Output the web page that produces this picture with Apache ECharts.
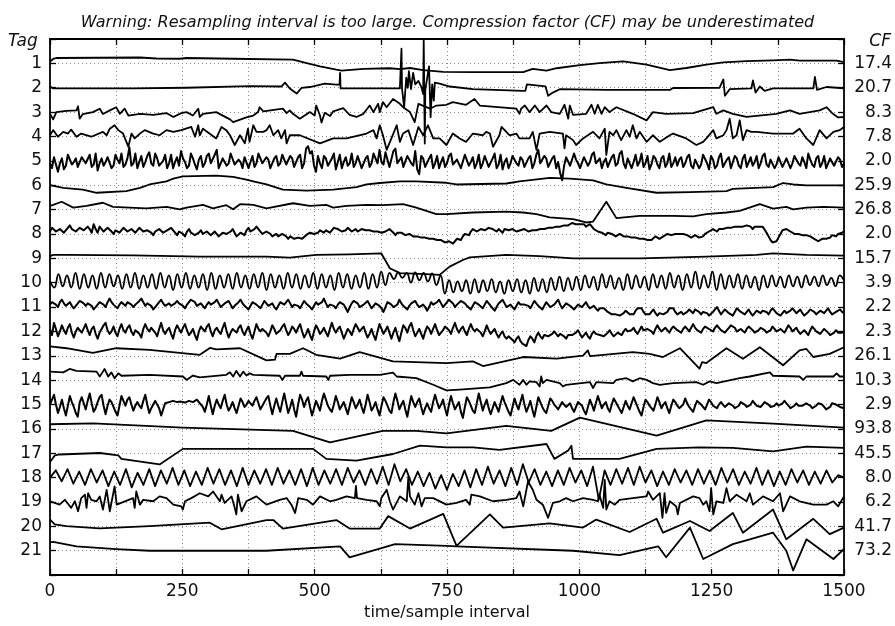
<!DOCTYPE html>
<html><head><meta charset="utf-8">
<script src="https://cdn.jsdelivr.net/npm/echarts@6/dist/echarts.min.js"></script>
<style>html,body{margin:0;padding:0;background:#fff}#c{width:895px;height:626px}</style>
</head><body><div id="c"></div>
<script>
const TITLE = 'Warning: Resampling interval is too large. Compression factor (CF) may be underestimated';
const X_NAME = 'time/sample interval';
const tagLabels = ['1','2','3','4','5','6','7','8','9','10','11','12','13','14','15','16','17','18','19','20','21'];
const cfLabels = ['17.4','20.7','8.3','7.8','2.0','25.9','26.8','2.0','15.7','3.9','2.2','2.3','26.1','10.3','2.9','93.8','45.5','8.0','6.2','41.7','73.2'];
const X_MAX = 1500;

// Piecewise traces: [time, offset below the tag line (tag units)]
const trace1 = [[0,-0.08],[3,-0.08],[6,-0.18],[12,-0.22],[170,-0.24],[201,-0.2],[245,-0.19],[258,-0.22],[346,-0.19],[459,-0.15],[485,-0.01],[510,0.12],[541,0.26],[551,0.3],[592,0.23],[642,0.2],[661,0.24],[680,0.19],[705,0.28],[743,0.35],[799,0.36],[894,0.36],[912,0.23],[938,0.3],[957,0.2],[1001,0.07],[1038,-0.01],[1083,-0.08],[1127,0.05],[1171,0.28],[1202,0.19],[1240,0.05],[1272,-0.04],[1316,-0.09],[1366,-0.12],[1398,-0.15],[1416,-0.11],[1486,-0.11],[1500,-0.05]];
const trace2 = [[0,-0.05],[3,-0.05],[6,0.03],[157,0.03],[258,0],[377,-0.07],[437,-0.05],[444,-0.21],[453,0.03],[466,0.24],[475,0.01],[491,-0.03],[519,-0.17],[541,-0.13],[547,-0.13],[548,-0.61],[549,0.03],[661,0.03],[664,0.03],[664,-1.6],[665,0.03],[669,0.8],[673,-0.41],[676,0],[678,-0.68],[682,0.06],[686,-0.61],[690,-0.14],[696,-0.28],[702,0],[705,0.26],[706,-1.97],[708,2.29],[709,0.1],[711,0.1],[716,-0.88],[719,1.21],[722,-0.14],[725,0.53],[727,-0.21],[736,-0.17],[755,-0.05],[799,0.06],[894,0.13],[898,0.13],[901,-0.14],[936,-0.06],[941,0.33],[950,0.2],[963,0.06],[1051,0.09],[1171,0.09],[1177,0.01],[1265,0],[1272,-0.34],[1275,0.33],[1284,0.06],[1325,0.03],[1328,-0.3],[1333,0.2],[1341,-0.05],[1350,0.13],[1366,0.03],[1442,0.03],[1445,-0.44],[1449,0.09],[1467,-0.03],[1486,0],[1500,0.03]];
const trace3 = [[0,0.07],[6,0.3],[12,0],[31,-0.05],[50,-0.07],[53,-0.24],[56,0.27],[62,0.08],[81,0],[94,-0.14],[100,0.08],[113,-0.07],[125,-0.2],[132,0.07],[141,-0.14],[148,0.14],[170,0.07],[195,0.11],[220,0.04],[233,0.2],[248,0.04],[258,0],[270,0.14],[280,-0.14],[283,0.2],[289,0.07],[314,0],[340,0.3],[346,0.41],[371,0.22],[384,0.14],[393,0],[396,-0.2],[403,-0.03],[440,-0.14],[447,0.04],[453,-0.07],[459,0.07],[472,0.27],[491,0],[500,0.14],[503,-0.27],[510,0.14],[513,0.43],[519,0.03],[529,0.16],[535,-0.03],[554,-0.16],[566,0.11],[579,0.2],[592,0.07],[604,-0.27],[611,0],[620,-0.34],[623,0],[629,-0.41],[636,-0.2],[648,-0.54],[661,-0.34],[667,-0.2],[680,0],[689,0.41],[696,-0.34],[718,-0.14],[730,-0.27],[749,-0.3],[761,-0.41],[786,-0.3],[802,-0.54],[812,-0.27],[881,-0.14],[887,0.07],[890,-0.14],[897,-0.27],[906,0],[916,-0.27],[925,0],[938,-0.27],[947,0],[963,0.07],[972,-0.3],[979,0.27],[982,-0.27],[988,0.11],[1013,0.07],[1023,-0.3],[1029,0.07],[1035,-0.3],[1042,0.07],[1048,-0.2],[1057,0],[1070,-0.2],[1101,0.07],[1127,0.34],[1139,0],[1164,0.07],[1215,0.04],[1253,-0.2],[1259,0.07],[1272,-0.07],[1290,0.07],[1316,0.2],[1372,0.07],[1398,-0.07],[1416,0.07],[1454,-0.07],[1467,-0.2],[1479,0.07],[1489,0.22],[1500,0.2]];
const trace4 = [[0,-0.05],[6,-0.26],[15,0.01],[25,-0.19],[34,-0.12],[40,-0.28],[50,0.01],[59,-0.12],[78,0.01],[100,-0.19],[107,-0.05],[113,-0.32],[122,-0.46],[129,-0.26],[138,-0.12],[148,0.42],[154,-0.12],[160,0.08],[170,-0.12],[179,-0.26],[195,-0.12],[207,-0.05],[220,-0.26],[233,-0.19],[248,-0.26],[267,-0.39],[274,0.01],[280,-0.46],[283,-0.05],[289,-0.32],[314,0.08],[324,-0.39],[333,-0.26],[340,-0.05],[349,0.35],[359,-0.05],[368,0.28],[374,-0.32],[377,0.22],[384,-0.46],[390,-0.19],[403,-0.19],[409,-0.26],[415,-0.46],[422,-0.05],[431,-0.26],[437,0.08],[444,-0.26],[447,0.28],[453,-0.05],[472,-0.05],[510,0.28],[535,0.08],[560,0.08],[598,-0.12],[611,-0.26],[617,0.08],[623,-0.46],[629,-0.05],[636,0.55],[645,0.08],[655,-0.46],[661,0.22],[667,-0.12],[677,-0.26],[686,0.35],[696,-0.39],[705,-0.05],[714,-0.46],[724,0.08],[736,0.08],[749,0.35],[761,-0.12],[774,0.08],[786,0.22],[799,-0.12],[818,-0.05],[824,-0.19],[831,-0.12],[837,0.42],[849,-0.05],[853,-0.39],[859,-0.26],[868,-0.05],[881,-0.12],[887,0.08],[906,0.08],[912,-0.19],[919,0.55],[925,-0.12],[944,-0.19],[969,-0.12],[972,0.49],[975,-0.05],[988,0.15],[994,0.35],[1007,0.08],[1026,-0.19],[1038,0.08],[1048,-0.32],[1051,0.76],[1057,-0.19],[1064,-0.05],[1070,-0.26],[1079,0.15],[1089,-0.26],[1095,0.01],[1101,-0.46],[1108,0.08],[1114,-0.19],[1127,0.22],[1139,-0.05],[1152,0.22],[1171,-0.05],[1177,-0.12],[1202,0.08],[1221,0.35],[1234,0.22],[1240,0.08],[1253,-0.26],[1259,0.08],[1272,-0.05],[1278,-0.26],[1284,-0.73],[1290,0.08],[1297,-0.05],[1303,-0.66],[1309,0.15],[1316,-0.26],[1325,-0.19],[1335,-0.19],[1366,-0.12],[1404,-0.12],[1416,-0.32],[1429,0.08],[1442,0.35],[1454,-0.26],[1467,0.08],[1480,-0.19],[1492,-0.26],[1500,-0.39]];
const trace6 = [[0,0],[25,0.11],[62,0.18],[88,0.31],[144,0.24],[170,0.11],[188,-0.03],[220,-0.16],[233,-0.27],[251,-0.36],[314,-0.39],[346,-0.34],[371,-0.23],[384,-0.16],[409,-0.03],[440,0.18],[485,0.22],[535,0.18],[579,0.08],[598,-0.03],[623,-0.09],[661,-0.16],[692,-0.16],[749,-0.1],[768,-0.03],[862,-0.07],[887,-0.16],[944,-0.3],[982,-0.27],[1026,-0.2],[1051,-0.03],[1089,0.11],[1146,0.31],[1209,0.28],[1278,0.24],[1290,0.15],[1366,0.08],[1385,-0.09],[1404,-0.03],[1429,0.01],[1500,0.01]];
const trace7 = [[0,-0.15],[6,-0.19],[22,-0.32],[44,-0.08],[69,-0.15],[100,-0.28],[119,-0.11],[182,-0.05],[220,-0.11],[245,-0.01],[258,-0.08],[289,-0.19],[308,-0.05],[333,-0.18],[346,-0.01],[359,-0.22],[384,-0.19],[409,-0.05],[459,-0.26],[491,-0.15],[522,-0.19],[535,-0.08],[560,-0.15],[598,-0.19],[629,-0.18],[667,-0.22],[692,-0.08],[730,0.19],[749,0.19],[799,0.12],[862,0.08],[894,0.12],[919,0.19],[944,0.32],[988,0.39],[1013,0.53],[1026,0.49],[1051,-0.32],[1070,0.35],[1114,0.26],[1177,0.26],[1215,0.28],[1240,0.19],[1278,0.12],[1303,0.05],[1341,-0.22],[1366,-0.04],[1391,-0.11],[1404,-0.01],[1429,-0.08],[1461,-0.11],[1500,-0.08]];
const trace9 = [[0,-0.09],[6,-0.14],[31,-0.14],[157,-0.12],[283,-0.07],[409,-0.07],[453,-0.03],[503,-0.14],[566,-0.16],[626,-0.2],[642,0.41],[661,0.61],[711,0.65],[736,0.68],[755,0.34],[780,0.07],[793,-0.04],[862,-0.14],[925,-0.09],[988,0],[1114,0],[1240,-0.07],[1335,-0.14],[1366,-0.2],[1429,-0.14],[1500,-0.11]];
const trace13 = [[0,-0.39],[31,-0.31],[81,-0.12],[125,-0.31],[188,-0.24],[283,-0.04],[302,-0.32],[314,-0.26],[359,-0.31],[409,0.19],[425,0.16],[428,-0.08],[453,-0.08],[478,-0.31],[503,-0.04],[548,0.12],[585,-0.15],[648,0.23],[749,0.3],[799,0.23],[818,0.42],[894,0.05],[957,0.12],[1007,-0.01],[1016,-0.22],[1020,0.01],[1101,-0.15],[1133,-0.08],[1158,0.05],[1190,-0.31],[1227,0.53],[1232,0.26],[1240,0.3],[1278,-0.31],[1309,0.12],[1341,-0.35],[1385,0.39],[1416,-0.22],[1429,-0.28],[1442,0.05],[1473,-0.08],[1500,-0.35]];
const trace14 = [[0,-0.35],[25,-0.32],[37,-0.46],[50,-0.38],[88,-0.35],[94,-0.15],[100,-0.35],[103,-0.46],[110,-0.15],[116,-0.32],[122,-0.08],[129,-0.28],[135,-0.18],[188,-0.22],[251,-0.15],[258,-0.01],[270,-0.19],[283,-0.11],[333,-0.22],[340,-0.32],[346,-0.15],[352,-0.38],[359,-0.15],[365,-0.35],[371,-0.19],[377,-0.28],[384,-0.22],[434,-0.18],[439,-0.01],[444,-0.18],[472,-0.18],[475,-0.35],[478,-0.18],[522,-0.15],[526,-0.01],[529,-0.18],[566,-0.22],[623,-0.22],[648,-0.31],[655,-0.15],[692,-0.08],[724,0.19],[749,0.42],[774,0.39],[831,0.3],[862,0.12],[875,-0.01],[887,0.19],[894,-0.01],[900,0.19],[906,0.05],[919,0.08],[925,0.26],[928,-0.15],[931,0.12],[938,-0.01],[963,0.12],[969,0.26],[975,0.19],[1020,0.08],[1026,0.32],[1032,0.08],[1064,0.12],[1070,-0.01],[1089,-0.08],[1101,0.05],[1114,-0.08],[1127,-0.01],[1139,0.12],[1152,0.19],[1177,0.12],[1221,0.08],[1234,0.19],[1246,0.05],[1259,0.12],[1303,-0.08],[1322,-0.15],[1360,-0.32],[1366,-0.18],[1416,-0.15],[1423,-0.01],[1429,-0.15],[1480,-0.15],[1486,-0.28],[1492,-0.15],[1500,-0.15]];
const trace16 = [[0,-0.19],[81,-0.23],[251,-0.05],[459,0.08],[529,0.55],[629,0.08],[692,0.08],[749,0.18],[862,-0.12],[947,0.08],[1001,-0.46],[1146,0.28],[1240,-0.35],[1366,-0.22],[1500,-0.05]];
const trace17 = [[0,0.36],[9,0.09],[18,0.05],[94,-0.01],[129,0.09],[135,0.23],[207,0.46],[251,-0.18],[497,-0.18],[522,0.23],[579,0.3],[648,0.03],[699,-0.31],[749,-0.24],[799,-0.24],[849,-0.14],[938,-0.38],[953,0.23],[979,-0.11],[985,-0.31],[988,0.23],[1076,0.23],[1146,-0.18],[1227,-0.24],[1290,-0.22],[1366,-0.08],[1429,-0.27],[1500,-0.22]];
const trace19 = [[0,-0.03],[18,0.11],[28,-0.09],[40,0.24],[47,-0.03],[53,0.38],[59,-0.16],[66,-0.3],[69,0.24],[72,-0.36],[78,-0.09],[88,-0.03],[94,-0.23],[100,0.31],[107,-0.5],[113,0.38],[122,-0.64],[126,0.11],[157,-0.16],[160,0.24],[163,-0.43],[170,0.11],[176,-0.09],[195,-0.03],[207,-0.23],[220,-0.16],[233,0.11],[248,0.18],[251,0.31],[255,-0.03],[267,-0.16],[283,-0.36],[299,-0.23],[308,-0.43],[321,-0.03],[324,-0.3],[330,0.04],[343,-0.23],[349,0.24],[352,0.51],[355,-0.3],[362,0.38],[371,-0.03],[390,-0.23],[409,0.11],[434,-0.09],[447,-0.16],[456,0.11],[463,0.45],[469,-0.16],[485,-0.09],[497,0.11],[510,-0.23],[529,-0.03],[541,-0.09],[560,-0.23],[576,-0.16],[578,-0.66],[580,-0.16],[598,-0.09],[617,-0.03],[623,0.18],[626,-0.16],[636,-0.5],[642,-0.03],[648,0.31],[661,-0.23],[674,-0.03],[677,-1.04],[680,-0.23],[689,0.11],[696,-0.36],[702,0.18],[708,-0.16],[724,-0.16],[749,0.11],[768,0.04],[786,-0.09],[793,0.11],[796,-0.3],[812,-0.23],[837,-0.03],[862,-0.09],[881,-0.16],[887,-0.43],[894,0.18],[903,-0.84],[912,-0.5],[919,-0.09],[931,0.11],[941,0.65],[950,0.04],[963,-0.03],[975,-0.16],[988,-0.03],[1007,-0.16],[1026,-0.09],[1035,-0.03],[1038,-0.3],[1045,0.24],[1048,-0.91],[1051,0.31],[1057,-0.03],[1067,0.11],[1076,-0.09],[1101,-0.16],[1127,-0.23],[1130,-0.43],[1139,-0.09],[1152,-0.36],[1157,0.65],[1161,-0.36],[1164,0.45],[1171,-0.03],[1183,0.18],[1186,0.51],[1190,0.04],[1215,-0.23],[1227,-0.16],[1234,0.11],[1240,-0.03],[1246,0.38],[1249,-0.57],[1253,0.51],[1259,-0.03],[1272,0.04],[1278,-0.57],[1284,-0.03],[1297,-0.3],[1316,-0.03],[1322,-0.36],[1328,0.11],[1347,-0.23],[1366,-0.03],[1379,-0.36],[1385,0.38],[1398,-0.23],[1416,-0.03],[1442,0.11],[1467,0.11],[1480,-0.03],[1489,0.18],[1500,-0.23]];
const trace20 = [[0,-0.28],[9,-0.08],[31,-0.01],[94,0.08],[188,-0.01],[302,-0.15],[324,0.12],[409,-0.26],[422,-0.26],[440,0.09],[541,-0.26],[566,0.09],[623,0.09],[639,-0.42],[680,0.09],[743,-0.51],[768,0.8],[831,-0.49],[856,0.05],[944,-0.12],[1007,0.05],[1032,-0.28],[1095,0.23],[1146,-0.31],[1158,0.26],[1209,-0.22],[1246,0.19],[1290,-0.55],[1309,0.26],[1366,-0.69],[1391,0.53],[1442,-0.31],[1473,0.32],[1500,0.05]];
const trace21 = [[0,-0.34],[6,-0.36],[50,-0.18],[125,-0.07],[188,0],[251,0],[409,0],[548,-0.18],[566,0.27],[652,-0.27],[749,-0.2],[768,-0.18],[988,0],[1076,0.18],[1149,-0.18],[1164,0.27],[1209,-0.95],[1234,0.34],[1290,-0.27],[1322,-0.47],[1366,-0.74],[1391,0],[1404,0.81],[1429,-0.47],[1480,0.34],[1500,-0.07]];

// Evenly sampled traces over 0..1500: offsets below the tag line.
// "…Mid" arrays hold the readings that fall between consecutive main readings.
const trace5 = [0.1,-0.15,0.45,-0.1,0.2,-0.2,0.05,0.25,-0.15,0.1,-0.25,0.15,0.4,-0.1,0.05,-0.2,0.2,-0.05,-0.3,0.15,
-0.55,0.1,0.3,-0.2,0.05,-0.35,0.2,-0.1,0.15,-0.25,0.1,0.3,-0.15,-0.4,0.05,0.2,-0.1,0.35,-0.2,0.1,
-0.3,0.15,-0.45,0.25,-0.1,0.1,-0.25,0.2,0.05,-0.15,0.3,-0.2,0.1,-0.35,0.15,-0.05,0.25,-0.2,0.1,-0.3,
0.2,-0.1,0.3,-0.25,0.1,-0.6,-0.4,0.45,0.1,-0.2,0.2,-0.1,0.35,-0.25,0.05,0.2,-0.3,0.1,-0.15,0.25,
-0.2,0.1,-0.35,-0.45,0.15,-0.3,0.2,-0.5,0.05,0.25,-0.2,0.1,-0.4,0.55,-0.1,0.2,-0.25,0.1,0.3,-0.15,
0.1,-0.3,0.2,-0.1,0.25,-0.2,0.05,0.3,-0.25,0.1,-0.15,0.2,-0.3,0.15,0.35,-0.1,0.1,-0.25,0.2,-0.05,
0.25,-0.2,0.1,-0.45,0.15,-0.1,0.3,-0.2,0.05,0.8,-0.15,0.2,-0.3,0.1,0.25,-0.2,0.05,-0.35,0.15,0.3,
-0.1,0.2,-0.25,0.1,-0.4,0.3,-0.15,0.05,0.2,-0.3,0.1,0.35,-0.2,0.15,-0.1,0.25,-0.3,0.1,0.2,-0.15,
0.1,-0.25,0.3,-0.1,0.15,-0.2,0.35,-0.05,0.2,-0.3,0.1,-0.15,0.25,-0.1,0.3,-0.25,0.05,0.2,-0.2,0.1,
-0.3,0.25,-0.1,0.15,-0.2,0.3,-0.15,0.1,-0.25,0.2,0.05,-0.3,0.15,-0.1,0.25,-0.2,0.1,-0.15,0.2,-0.05,0.1];
const trace5Mid = [0.3,-0.2,0.1,0.35,-0.25,0.15,-0.1,0.3,-0.2,0.05,0.25,-0.3,0.1,0.2,-0.15,0.3,-0.25,0.1,0.25,-0.1,
0.2,-0.3,0.05,0.25,-0.2,0.1,-0.3,0.2,0.0,0.3,-0.25,0.05,0.2,-0.1,0.3,-0.3,0.15,-0.05,0.25,-0.2,
0.1,-0.25,0.3,-0.1,0.2,-0.3,0.15,-0.05,0.3,-0.2,0.05,0.25,-0.3,0.1,-0.15,0.3,-0.1,0.2,-0.25,0.15,
-0.2,0.25,-0.15,0.3,-0.5,-0.3,0.2,-0.2,0.3,-0.1,0.25,-0.3,0.05,0.3,-0.15,0.1,0.25,-0.2,0.3,-0.1,
0.25,-0.3,0.1,0.05,-0.35,0.25,-0.4,0.1,-0.15,0.3,-0.05,0.2,0.35,-0.2,0.25,-0.1,0.3,-0.2,0.05,0.25,
-0.2,0.15,-0.05,0.3,-0.25,0.2,-0.15,0.1,0.3,-0.2,0.25,-0.1,0.3,-0.25,0.05,0.3,-0.2,0.1,-0.15,0.25,
-0.1,0.3,-0.25,0.1,-0.2,0.25,-0.1,0.3,0.5,0.2,-0.2,0.25,-0.05,0.3,-0.15,0.2,-0.25,0.1,-0.1,0.05,
0.25,-0.15,0.2,-0.3,0.1,-0.1,0.3,-0.25,0.05,0.25,-0.2,0.15,-0.1,0.3,-0.2,0.1,0.25,-0.15,-0.05,0.25,
-0.15,0.2,-0.05,0.3,-0.25,0.1,-0.2,0.3,-0.15,0.25,-0.05,0.3,-0.2,0.2,-0.1,0.25,-0.15,0.05,0.3,-0.2,
0.15,-0.05,0.3,-0.15,0.25,-0.1,0.3,-0.2,0.1,-0.15,0.3,-0.05,0.25,-0.2,0.1,0.3,-0.1,0.2,-0.15,0.25];
const trace8 = [-0.1,-0.3,-0.05,-0.25,-0.1,-0.35,-0.15,-0.05,-0.3,-0.1,-0.2,-0.4,-0.05,-0.25,-0.15,-0.3,0.0,-0.2,-0.1,-0.3,
-0.05,-0.25,-0.1,-0.3,-0.05,-0.2,0.05,-0.15,-0.25,0.0,-0.1,-0.3,0.05,-0.15,0.1,-0.2,-0.05,0.1,-0.15,0.05,
-0.1,0.1,-0.05,0.15,-0.1,0.05,-0.2,0.1,-0.05,0.05,-0.25,-0.05,-0.3,-0.1,0.05,-0.15,0.1,0.0,0.15,-0.05,
0.2,0.05,0.25,0.1,0.2,0.0,-0.1,0.05,-0.15,-0.05,-0.2,-0.1,-0.3,-0.15,-0.05,-0.25,-0.1,-0.2,-0.05,-0.25,
-0.1,-0.2,-0.05,-0.15,0.0,-0.1,-0.25,0.05,-0.1,0.0,0.1,-0.05,0.15,0.05,0.2,0.1,0.25,0.15,0.3,0.2,
0.4,0.35,0.3,0.2,0.1,0.0,-0.1,-0.2,-0.05,-0.25,-0.1,-0.3,-0.15,-0.2,-0.05,-0.25,-0.1,-0.2,-0.05,-0.15,
-0.15,-0.05,-0.2,-0.1,-0.25,-0.15,-0.3,-0.2,-0.35,-0.25,-0.4,-0.3,-0.5,-0.35,-0.45,-0.3,-0.4,-0.2,-0.1,-0.05,
0.05,-0.1,0.05,0.1,0.0,0.15,0.05,0.2,0.1,0.25,0.15,0.3,0.2,0.1,0.2,0.05,-0.05,0.1,-0.05,0.05,
0.0,0.1,0.15,0.05,0.2,0.0,-0.1,-0.2,-0.1,-0.25,-0.15,-0.3,-0.2,-0.35,-0.25,-0.3,-0.4,-0.2,-0.35,-0.25,
-0.3,0.1,0.35,0.3,0.0,-0.2,-0.15,-0.05,0.05,-0.05,0.1,0.0,0.15,0.25,0.3,0.15,0.25,0.05,0.1,-0.05,-0.1];
const trace8Mid = [-0.25,-0.1,-0.2,-0.05,-0.25,-0.2,-0.1,-0.25,-0.15,-0.3,-0.05,-0.2,-0.3,-0.1,-0.25,-0.1,-0.15,-0.05,-0.25,-0.1,
-0.2,-0.05,-0.25,-0.1,-0.15,-0.05,-0.1,-0.2,-0.05,-0.15,-0.25,-0.05,-0.1,0.0,-0.1,-0.05,0.05,-0.05,0.0,-0.1,
0.05,-0.1,0.1,-0.05,0.0,-0.1,-0.05,0.05,0.0,-0.15,-0.1,-0.2,-0.2,0.0,-0.1,0.0,0.05,0.1,0.0,0.1,
0.1,0.2,0.15,0.2,0.05,-0.05,0.0,-0.05,-0.1,-0.15,-0.05,-0.25,-0.2,-0.1,-0.15,-0.2,-0.15,-0.1,-0.2,-0.15,
-0.15,-0.1,-0.1,-0.05,-0.1,-0.2,-0.05,-0.05,-0.05,0.05,0.0,0.1,0.1,0.15,0.15,0.2,0.2,0.25,0.25,0.35,
0.3,0.4,0.2,0.25,0.0,0.05,-0.2,-0.1,-0.2,-0.15,-0.25,-0.2,-0.1,-0.15,-0.2,-0.15,-0.2,-0.1,-0.15,-0.2,
-0.1,-0.15,-0.15,-0.2,-0.2,-0.25,-0.25,-0.3,-0.3,-0.35,-0.35,-0.45,-0.4,-0.4,-0.4,-0.35,-0.3,-0.15,-0.05,0.0,
-0.05,0.0,0.1,0.0,0.1,0.1,0.15,0.15,0.2,0.2,0.25,0.25,0.1,0.2,0.1,0.0,0.05,0.0,0.0,0.0,
0.05,0.15,0.05,0.15,0.1,-0.05,-0.15,-0.15,-0.2,-0.2,-0.25,-0.25,-0.3,-0.3,-0.3,-0.35,-0.3,-0.3,-0.3,-0.3,
-0.05,0.25,0.4,0.15,-0.15,-0.2,-0.1,0.0,0.0,0.05,0.05,0.1,0.2,0.3,0.2,0.2,0.15,0.1,0.0,-0.05];
const trace10 = [-0.05,0.2,-0.35,0.15,-0.3,0.2,-0.4,0.25,-0.35,0.2,-0.3,0.25,-0.4,0.2,-0.35,0.15,-0.3,0.25,-0.35,0.2,
-0.4,0.25,-0.3,0.2,-0.35,0.25,-0.4,0.2,-0.3,0.3,-0.35,0.2,-0.4,0.25,-0.3,0.2,-0.35,0.3,-0.4,0.25,
-0.3,0.2,-0.35,0.25,-0.4,0.2,-0.3,0.25,-0.35,0.2,-0.4,0.3,-0.35,0.2,-0.3,0.25,-0.4,0.2,-0.35,0.25,
-0.3,0.2,-0.4,0.25,-0.35,0.2,-0.3,0.3,-0.4,0.2,-0.35,0.25,-0.3,0.2,-0.4,0.25,-0.35,0.2,-0.45,0.1,
-0.4,-0.15,-0.42,-0.2,-0.4,0.0,-0.42,-0.1,-0.4,-0.05,-0.38,0.1,-0.3,0.45,
-0.1,0.4,-0.05,0.35,-0.1,0.45,-0.15,0.4,-0.1,0.35,-0.15,0.4,-0.05,0.45,-0.1,0.35,-0.15,0.4,-0.1,0.45,-0.2,0.35,-0.15,0.4,-0.2,0.3,-0.25,0.35,-0.2,0.3,-0.25,
0.3,-0.3,0.2,-0.25,0.3,-0.35,0.2,-0.3,0.25,-0.2,0.3,-0.35,0.25,-0.3,0.2,-0.25,0.3,-0.35,0.2,-0.3,0.25,-0.4,0.2,-0.3,0.3,-0.35,0.2,-0.45,0.25,-0.3,0.2,-0.45,0.3,-0.35,0.25,-0.3,0.2,-0.35,0.25,-0.3,0.2,-0.25,0.3,-0.3,
0.2,-0.3,0.15,-0.25,0.2,-0.3,0.15,-0.25,0.2,-0.3,0.1,-0.25,0.15,-0.3,0.1,-0.2,0.15,-0.3,-0.1];
const trace11 = [-0.1,-0.25,0.0,-0.3,-0.05,-0.2,0.05,-0.15,-0.3,-0.05,-0.2,0.1,-0.1,-0.25,0.0,-0.35,-0.1,0.05,-0.2,-0.05,
-0.25,0.0,-0.15,-0.35,-0.05,-0.2,0.1,-0.1,-0.3,-0.05,-0.15,0.0,-0.25,-0.1,0.05,-0.2,-0.35,-0.05,-0.15,0.05,
-0.2,-0.05,-0.3,0.0,-0.15,-0.25,0.05,-0.1,-0.3,-0.05,0.1,-0.2,-0.1,0.05,-0.25,-0.05,-0.15,0.1,-0.2,-0.1,
-0.3,0.0,-0.15,0.05,-0.25,-0.1,0.1,-0.2,-0.05,-0.35,0.0,-0.15,0.05,-0.2,-0.1,0.2,-0.15,-0.3,0.0,-0.1,
-0.25,0.05,-0.15,-0.05,0.2,-0.2,-0.1,0.05,-0.3,-0.05,0.1,-0.15,-0.25,0.0,-0.1,0.15,-0.2,-0.05,-0.3,0.0,
-0.2,-0.35,0.0,-0.15,-0.3,-0.05,0.1,-0.2,-0.1,0.05,-0.25,-0.05,0.15,-0.15,-0.3,0.0,-0.1,0.1,-0.2,-0.05,
-0.15,0.05,-0.25,-0.05,0.1,-0.2,0.0,-0.1,-0.3,0.05,-0.15,-0.05,0.1,-0.1,0.0,-0.2,0.05,-0.05,0.15,0.0,
0.1,0.25,0.35,0.25,0.4,0.15,0.3,0.3,0.05,0.05,0.3,0.3,0.1,0.35,0.2,0.35,0.05,0.05,0.3,0.2,
0.35,0.1,0.25,0.05,0.3,0.15,0.35,0.2,0.0,0.3,0.1,0.25,0.35,0.05,0.2,0.3,0.1,0.35,0.15,0.25,
0.1,0.3,0.05,0.25,0.35,0.15,0.3,0.05,0.25,0.1,0.35,0.2,0.05,0.3,0.15,0.25,0.05,0.3,0.2,0.1,0.25];
const trace11Mid = [-0.2,-0.1,-0.2,-0.15,-0.1,-0.05,-0.05,-0.25,-0.15,-0.15,-0.05,0.0,-0.2,-0.1,-0.2,-0.2,-0.05,-0.1,-0.15,-0.2,
-0.1,-0.1,-0.25,-0.2,-0.15,-0.05,0.0,-0.2,-0.15,-0.1,-0.05,-0.15,-0.15,-0.05,-0.1,-0.3,-0.2,-0.1,-0.05,-0.1,
-0.1,-0.2,-0.15,-0.05,-0.2,-0.1,-0.05,-0.2,-0.15,0.0,-0.05,-0.15,-0.05,-0.1,-0.15,-0.1,0.0,-0.05,-0.15,-0.2,
-0.15,-0.1,-0.05,-0.1,-0.15,0.0,-0.05,-0.1,-0.2,-0.15,-0.1,-0.05,-0.1,-0.15,0.05,0.0,-0.25,-0.15,-0.05,-0.15,
-0.1,-0.05,-0.1,0.05,0.0,-0.15,0.0,-0.1,-0.15,0.0,-0.05,-0.2,-0.1,-0.05,0.0,0.0,-0.1,-0.2,-0.15,-0.1,
-0.3,-0.15,-0.1,-0.25,-0.15,0.0,-0.05,-0.15,-0.05,-0.1,-0.15,0.05,0.0,-0.2,-0.15,-0.05,0.0,-0.05,-0.1,-0.1,
-0.05,-0.1,-0.15,0.0,-0.05,-0.1,-0.05,-0.2,-0.1,-0.05,-0.1,0.0,0.0,-0.05,-0.1,-0.05,0.0,0.05,0.05,0.05,
0.2,0.3,0.3,0.35,0.25,0.2,0.3,0.15,0.05,0.2,0.3,0.2,0.25,0.25,0.3,0.2,0.05,0.2,0.25,0.3,
0.2,0.15,0.1,0.2,0.2,0.25,0.3,0.1,0.15,0.2,0.15,0.3,0.2,0.1,0.25,0.2,0.25,0.25,0.2,0.15,
0.2,0.15,0.15,0.3,0.25,0.25,0.15,0.15,0.2,0.25,0.3,0.1,0.2,0.25,0.2,0.15,0.2,0.25,0.15,0.2];
const trace12 = [-0.1,-0.35,0.2,-0.25,0.1,-0.3,0.25,-0.15,0.05,-0.3,0.15,-0.2,0.3,-0.1,-0.35,0.1,-0.2,0.2,-0.3,0.05,
-0.25,0.15,-0.1,0.25,-0.3,0.0,-0.2,0.2,-0.35,0.1,-0.15,0.3,-0.25,0.05,-0.3,0.15,-0.1,0.35,-0.2,0.0,
-0.3,0.2,-0.15,0.1,-0.35,0.25,-0.1,0.05,-0.25,0.15,-0.2,0.3,-0.3,0.0,-0.15,0.2,-0.25,0.1,-0.05,-0.3,
0.15,-0.2,0.05,-0.3,0.25,-0.1,0.35,-0.25,0.1,-0.15,0.2,-0.35,0.05,-0.2,0.3,-0.1,0.15,-0.3,0.0,-0.2,
0.25,-0.1,0.35,-0.3,0.1,-0.2,0.3,-0.15,0.4,-0.25,0.05,-0.35,0.2,-0.1,0.3,-0.2,0.1,-0.3,0.15,-0.05,
-0.25,0.1,-0.35,0.05,-0.2,0.15,-0.3,0.0,-0.15,0.2,-0.25,0.1,-0.1,0.25,0.0,0.3,0.15,0.45,0.2,0.5,
0.6,0.2,0.45,0.05,0.3,0.1,0.25,0.0,0.2,0.05,0.3,0.1,0.2,-0.05,0.25,0.05,0.3,0.0,0.15,0.1,
0.25,-0.05,0.2,0.05,0.15,-0.1,0.05,-0.15,0.1,-0.2,0.0,-0.1,0.1,-0.25,0.0,-0.15,0.05,-0.2,-0.05,0.05,
-0.2,0.0,-0.3,-0.05,0.05,-0.2,-0.1,0.0,-0.25,-0.05,0.05,-0.15,-0.3,0.0,-0.1,0.05,-0.2,-0.05,0.1,-0.15,
-0.05,0.1,-0.2,0.0,-0.1,0.05,-0.25,0.0,-0.15,0.1,-0.05,0.15,-0.2,0.0,0.1,-0.1,0.05,0.2,-0.05,0.1,0.0];
const trace12Mid = [0.15,-0.1,0.0,-0.05,-0.15,0.05,0.0,-0.2,0.1,-0.05,-0.1,0.1,0.05,-0.25,-0.05,0.0,0.05,-0.1,-0.05,-0.15,
0.0,-0.05,0.1,-0.1,-0.1,-0.15,0.05,-0.1,-0.05,-0.05,0.1,-0.05,-0.1,-0.15,-0.05,0.05,0.15,0.0,-0.15,-0.2,
0.0,-0.05,0.0,-0.15,0.0,0.05,-0.05,-0.15,0.0,-0.05,0.1,0.0,-0.1,-0.1,0.05,0.0,-0.1,0.05,-0.2,-0.05,
0.0,-0.1,-0.15,0.0,0.1,0.15,0.0,-0.1,0.0,0.05,-0.1,-0.1,-0.1,0.05,0.1,0.0,-0.1,-0.15,-0.1,0.05,
0.1,0.15,0.0,-0.1,-0.05,0.05,0.05,0.15,0.05,-0.15,-0.2,-0.05,0.05,0.1,0.0,-0.1,-0.1,-0.05,0.05,-0.2,
-0.05,-0.15,-0.1,-0.1,0.0,-0.1,-0.1,-0.1,0.05,0.0,-0.05,0.0,0.1,0.1,0.2,0.2,0.35,0.3,0.4,0.55,
0.35,0.3,0.2,0.2,0.15,0.2,0.1,0.1,0.1,0.2,0.15,0.15,0.05,0.1,0.15,0.2,0.1,0.1,0.15,0.2,
0.05,0.1,0.15,0.1,0.0,0.0,-0.05,0.0,-0.05,-0.05,-0.1,0.0,-0.1,-0.1,-0.05,-0.05,-0.1,-0.15,0.0,-0.1,
-0.1,-0.15,-0.15,0.0,-0.1,-0.15,-0.05,-0.15,-0.15,0.0,-0.05,-0.25,-0.15,-0.05,-0.05,-0.1,-0.15,0.05,-0.05,-0.1,
0.05,-0.05,-0.1,-0.05,-0.05,-0.1,-0.15,-0.05,0.0,0.05,0.05,-0.05,-0.1,0.05,0.0,-0.05,0.15,0.05,0.05,0.05];
const trace15 = [0.0,-0.4,0.35,-0.2,0.45,-0.35,0.1,0.5,-0.3,0.2,-0.45,0.3,-0.1,-0.4,0.4,-0.2,0.1,0.45,-0.35,0.05,
-0.3,0.25,-0.1,0.15,-0.4,0.35,0.0,-0.2,0.45,-0.05,-0.1,-0.15,-0.1,-0.12,-0.08,-0.15,-0.1,-0.2,-0.05,0.3,
-0.35,0.4,-0.2,0.15,-0.4,0.25,-0.1,0.35,-0.25,0.1,-0.15,0.05,-0.3,0.2,-0.1,-0.35,0.4,-0.25,0.3,-0.45,
0.35,-0.2,0.5,-0.4,0.1,-0.3,0.45,-0.15,0.25,-0.45,0.05,0.3,-0.35,0.2,-0.1,0.4,-0.3,0.15,-0.2,0.35,
-0.4,0.25,-0.1,0.45,-0.3,0.05,0.35,-0.45,0.2,-0.15,0.5,-0.35,0.1,-0.25,0.4,-0.05,0.3,-0.4,0.15,-0.2,
0.45,-0.35,0.2,-0.1,0.55,-0.3,0.05,0.35,-0.45,0.25,-0.2,0.4,-0.1,0.3,-0.35,0.1,0.45,-0.25,0.2,-0.4,
0.3,-0.15,0.5,-0.3,0.1,0.35,-0.25,0.0,0.2,-0.1,0.1,-0.05,0.3,-0.1,0.05,0.4,-0.2,0.25,-0.35,0.15,
-0.1,0.3,-0.25,0.05,0.35,-0.15,0.2,-0.3,0.1,0.45,-0.2,0.05,0.25,-0.3,0.15,-0.1,0.35,-0.2,0.05,0.2,
-0.25,0.1,0.3,-0.15,0.0,0.2,-0.2,0.05,0.15,-0.1,0.1,-0.05,0.05,0.2,-0.1,0.0,0.15,-0.15,0.05,0.1,
-0.1,0.0,0.15,-0.05,0.1,-0.15,0.05,0.2,-0.05,0.1,0.0,-0.1,0.15,0.05,-0.1,0.1,0.25,-0.05,0.0,0.1,0.15];
const trace15Mid = [-0.2,0.0,0.1,0.15,0.05,-0.1,0.35,-0.1,-0.05,-0.15,-0.05,0.15,-0.3,0.05,0.05,-0.1,0.3,0.05,-0.15,-0.2,
0.0,0.05,0.05,-0.15,0.0,0.15,-0.15,0.15,0.2,-0.1,-0.12,-0.1,-0.12,-0.1,-0.12,-0.12,-0.15,-0.1,0.1,0.0,
0.05,0.05,0.0,-0.15,0.0,0.1,0.15,0.05,-0.1,0.0,-0.05,-0.15,-0.05,0.05,-0.25,0.05,0.05,0.05,-0.1,-0.05,
0.1,0.2,0.0,-0.2,-0.15,0.1,0.15,0.05,-0.15,-0.2,0.2,0.0,-0.1,0.05,0.15,0.05,-0.1,0.0,0.1,0.0,
-0.1,0.1,0.2,0.05,-0.15,0.25,-0.1,-0.15,0.0,0.2,0.05,-0.1,-0.1,0.1,0.15,0.15,-0.1,-0.1,0.0,0.15,
0.0,-0.05,0.05,0.3,0.1,-0.15,0.25,-0.05,-0.1,0.0,0.15,0.15,0.1,-0.05,-0.1,0.3,0.1,0.0,-0.1,0.0,
0.1,0.2,0.1,-0.1,0.25,0.05,-0.15,0.1,0.05,0.0,0.05,0.15,0.1,-0.05,0.25,0.1,0.0,-0.05,-0.1,0.0,
0.15,0.0,-0.1,0.2,0.1,0.05,-0.05,-0.1,0.3,0.1,-0.1,0.15,0.0,-0.1,0.0,0.15,0.05,-0.1,0.15,0.0,
-0.05,0.2,0.05,-0.1,0.1,0.0,-0.1,0.1,0.0,0.0,0.05,0.0,0.15,0.05,-0.05,0.1,0.0,-0.05,0.1,0.0,
-0.05,0.1,0.05,0.05,-0.05,-0.05,0.15,0.05,0.05,0.05,-0.05,0.05,0.1,-0.05,0.0,0.2,0.1,-0.05,0.05,0.1];
const trace18 = [0.0,-0.3,0.15,-0.35,0.25,-0.25,0.3,-0.35,0.2,-0.3,0.35,-0.25,0.3,-0.35,0.4,-0.2,0.3,-0.35,0.35,-0.3,
0.25,-0.4,0.3,-0.3,0.35,-0.25,0.3,-0.4,0.25,-0.35,0.3,-0.3,0.35,-0.4,0.3,-0.3,0.25,-0.35,0.3,-0.4,
0.25,-0.3,0.3,-0.35,0.35,-0.4,0.3,-0.3,0.25,-0.35,0.3,-0.4,0.2,-0.3,0.3,-0.35,0.25,-0.45,0.3,-0.55,
0.15,-0.35,0.3,-0.25,0.35,-0.2,0.45,-0.1,0.5,-0.15,0.35,-0.3,0.4,-0.35,0.3,-0.45,0.25,-0.3,0.35,-0.4,
0.3,-0.55,0.2,-0.35,0.3,-0.25,0.35,-0.3,0.3,-0.4,0.2,-0.3,0.35,-0.45,0.9,-0.3,0.3,-0.35,0.25,-0.4,
0.3,-0.45,0.2,-0.3,0.35,-0.25,0.3,-0.35,0.2,-0.3,0.3,-0.35,0.25,-0.3,0.3,-0.4,0.2,-0.35,0.3,-0.25,
0.25,-0.4,0.3,-0.3,0.35,-0.25,0.3,-0.35,0.2,-0.3,0.3,-0.25,0.25,-0.3,0.2,-0.1,0.0];

function interleave(a, b) {
  const out = [];
  for (let i = 0; i < a.length; i++) { out.push(a[i]); if (i < b.length) out.push(b[i]); }
  return out;
}

const traces = [
  {tag:1, pts:trace1},{tag:2, pts:trace2},{tag:3, pts:trace3},{tag:4, pts:trace4},
  {tag:5, samples:interleave(trace5, trace5Mid), noisy:true},{tag:6, pts:trace6},{tag:7, pts:trace7},
  {tag:8, samples:interleave(trace8, trace8Mid), noisy:true},
  {tag:9, pts:trace9},{tag:10, samples:trace10, smooth:0.45},
  {tag:11, samples:interleave(trace11, trace11Mid), noisy:true},{tag:12, samples:interleave(trace12, trace12Mid), noisy:true},
  {tag:13, pts:trace13},{tag:14, pts:trace14},{tag:15, samples:interleave(trace15, trace15Mid), noisy:true},{tag:16, pts:trace16},
  {tag:17, pts:trace17},{tag:18, samples:trace18},{tag:19, pts:trace19},{tag:20, pts:trace20},{tag:21, pts:trace21}
];

const FONT = 'DejaVu Sans';
const series = traces.map(t => {
  let data;
  if (t.pts) data = t.pts.map(p => [p[0], t.tag + p[1]]);
  else { const n = t.samples.length; data = t.samples.map((v, i) => [i * X_MAX / (n - 1), t.tag + v]); }
  return {type:'line', data, symbol:'none', smooth:t.smooth || false, animation:false, sampling:undefined,
    lineStyle:{color:'#000', width:t.noisy ? 2.0 : 1.8, join:'round'}, clip:true, z:3};
});

const chart = echarts.init(document.getElementById('c'), null, {renderer:'canvas'});
const splitStyle = {show:true, lineStyle:{color:'#8a8a8a', type:[1,3], width:1}};
const tickStyle = {show:true, inside:true, length:6, lineStyle:{color:'#000', width:1.3}};
const frameLine = {show:true, onZero:false, lineStyle:{color:'#000', width:1.8}};
chart.setOption({
  animation:false,
  backgroundColor:'#fff',
  title:{text:TITLE, left:'center', top:10, textStyle:{fontFamily:FONT, fontSize:16, fontStyle:'italic', fontWeight:'normal', color:'#111'}},
  grid:{left:50, right:51, top:39, height:544},
  xAxis:[
    {type:'value', min:0, max:X_MAX, interval:125, position:'bottom',
     name:X_NAME, nameLocation:'middle', nameGap:29, nameTextStyle:{fontFamily:FONT, fontSize:16, color:'#111'},
     axisLine:frameLine, axisTick:tickStyle,
     axisLabel:{margin:8, fontFamily:FONT, fontSize:17, color:'#111', formatter:v => (v % 250 === 0 ? String(v) : '')},
     splitLine:splitStyle},
    {type:'value', min:0, max:X_MAX, interval:125, position:'top',
     axisLine:frameLine, axisTick:tickStyle, axisLabel:{show:false}, splitLine:{show:false}}
  ],
  yAxis:[
    {type:'value', min:0, max:22, interval:1, inverse:true, position:'left',
     axisLine:frameLine, axisTick:tickStyle,
     axisLabel:{margin:8, fontFamily:FONT, fontSize:17, color:'#111', formatter:v => (v >= 1 && v <= 21 ? tagLabels[v - 1] : '')},
     splitLine:splitStyle},
    {type:'value', min:0, max:22, interval:1, inverse:true, position:'right',
     axisLine:frameLine, axisTick:tickStyle,
     axisLabel:{margin:48, align:'right', fontFamily:FONT, fontSize:17, color:'#111', formatter:v => (v >= 1 && v <= 21 ? cfLabels[v - 1] : '')},
     splitLine:{show:false}}
  ],
  graphic:[
    {type:'text', left:8, top:33, style:{text:'Tag', fontFamily:FONT, fontSize:17, fontStyle:'italic', fill:'#111'}},
    {type:'text', right:4, top:33, style:{text:'CF', fontFamily:FONT, fontSize:17, fontStyle:'italic', fill:'#111'}}
  ],
  series
});
</script>
</body></html>
